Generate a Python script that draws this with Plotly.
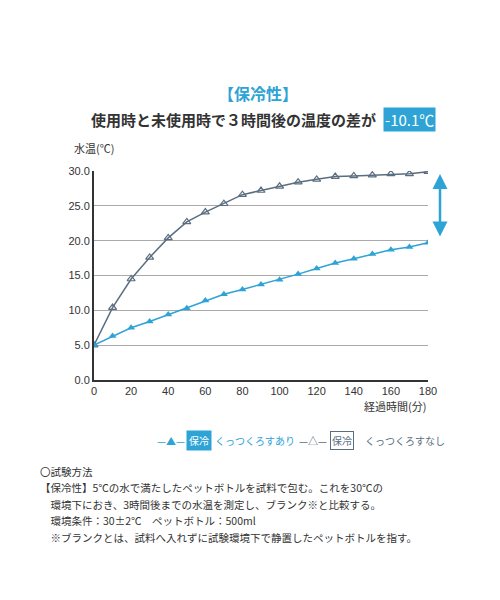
import plotly.graph_objects as go

minutes = list(range(0, 181, 10))
with_cover = [5.0, 6.3, 7.5, 8.4, 9.4, 10.3, 11.4, 12.3, 13.0, 13.7, 14.4, 15.2, 16.0, 16.8, 17.4, 18.1, 18.7, 19.1, 19.7]
without_cover = [5.0, 10.4, 14.5, 17.6, 20.4, 22.7, 24.1, 25.3, 26.6, 27.2, 27.8, 28.4, 28.8, 29.2, 29.3, 29.4, 29.6, 29.6, 29.9]
y_ticks = [0, 5, 10, 15, 20, 25, 30]
x_ticks = list(range(0, 181, 20))

BLUE = "#2ea3d5"
GREY = "#5b6e80"
TXT = "#333333"
F = "Noto Sans CJK JP"

fig = go.Figure()
fig.add_trace(go.Scatter(x=minutes, y=without_cover, mode="lines+markers",
    line=dict(color=GREY, width=1.5),
    marker=dict(symbol="triangle-up-open", size=7, color=GREY, line=dict(width=1.2))))
fig.add_trace(go.Scatter(x=minutes, y=with_cover, mode="lines+markers",
    line=dict(color=BLUE, width=1.5),
    marker=dict(symbol="triangle-up", size=7, color=BLUE)))

ann = []
def P(px, py):
    return (px - 86) / (420 - 86), (372 - py) / (372 - 163)

def A(px, py, text, size=11, color=TXT, xanchor="left", **kw):
    x, y = P(px, py)
    ann.append(dict(xref="paper", yref="paper", x=x, y=y, text=text, showarrow=False,
                    font=dict(size=size, color=color, family=F), xanchor=xanchor, yanchor="middle", **kw))

A(250, 85, "<b>【保冷性】</b>", size=16, color=BLUE, xanchor="center")
A(370, 111, "<b>使用時と未使用時で３時間後の温度の差が</b>", size=15, color=TXT, xanchor="right")
A(375, 111, "-10.1℃", size=15, color="white", bgcolor=BLUE, borderpad=1)
A(86, 140, "水温(℃)", size=11, xanchor="center")
A(420, 398, "経過時間(分)", size=11, xanchor="right")

A(163, 432, "—▲—", size=10, color=BLUE, xanchor="center")
A(178, 432, "保冷", size=10, color="white", bgcolor=BLUE, borderpad=2)
A(205, 432, "くっつくろすあり", size=10, color=BLUE)
A(305, 432, "—△—", size=10, color=GREY, xanchor="center")
A(322, 432, "保冷", size=10, color=GREY, bordercolor=GREY, borderwidth=1, borderpad=1)
A(355, 432, "くっつくろすなし", size=10, color=GREY)

notes = ["〇試験方法",
         "【保冷性】5℃の水で満たしたペットボトルを試料で包む。これを30℃の",
         "　環境下におき、3時間後までの水温を測定し、ブランク※と比較する。",
         "　環境条件：30±2℃　ペットボトル：500ml",
         "　※ブランクとは、試料へ入れずに試験環境下で静置したペットボトルを指す。"]
for i, n in enumerate(notes):
    A(30, 463 + i * 16.5, n, size=10.5)

x0, y0 = P(432, 166)
ann.append(dict(xref="paper", yref="paper", x=x0, y=y0, ax=0, ay=64, axref="pixel", ayref="pixel",
                showarrow=True, arrowhead=2, startarrowhead=2, arrowside="end+start",
                arrowwidth=2.5, arrowsize=1.2, arrowcolor=BLUE, text=""))

fig.update_layout(
    width=500, height=600, margin=dict(l=86, r=80, t=163, b=228),
    paper_bgcolor="white", plot_bgcolor="white", showlegend=False,
    font=dict(family=F, color=TXT, size=11),
    xaxis=dict(range=[0, 180], tickvals=x_ticks, showgrid=False, showline=True,
               linecolor="#333", linewidth=2, ticks="", zeroline=False),
    yaxis=dict(range=[0, 30], tickvals=y_ticks, tickformat=".1f", showgrid=True,
               gridcolor="#aaaaaa", gridwidth=1, showline=True, linecolor="#333", linewidth=2,
               ticks="", zeroline=False),
    annotations=ann,
)
fig.update_xaxes(tickfont=dict(size=11, family="Liberation Sans"))
fig.update_yaxes(tickfont=dict(size=11, family="Liberation Sans"))
fig.write_html("out.html")
